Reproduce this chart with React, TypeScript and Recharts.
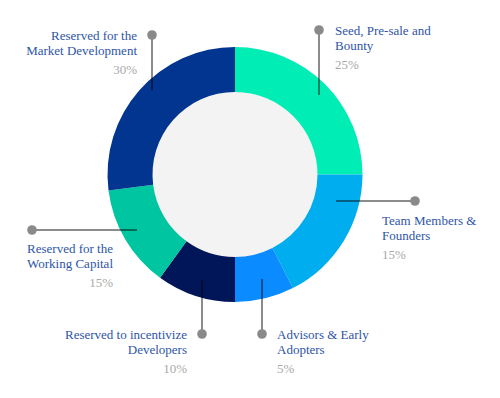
import { PieChart, Pie, Cell } from 'recharts';

const NAMES = [
  ['Seed, Pre-sale and', 'Bounty'],
  ['Team Members &', 'Founders'],
  ['Advisors & Early', 'Adopters'],
  ['Reserved to incentivize', 'Developers'],
  ['Reserved for the', 'Working Capital'],
  ['Reserved for the', 'Market Development'],
];
const SHARES = [25, 17.5, 7.5, 10, 13, 27];
const PCT_LABELS = ['25%', '15%', '5%', '10%', '15%', '30%'];

const COLORS = ['#00EDB6', '#00AEEF', '#0A8BFF', '#001659', '#00C5A1', '#02358F'];

const data = SHARES.map((v, i) => ({ name: NAMES[i].join(' '), value: v }));

// callout layout: dot, line end inside the ring, text anchor & position
const CALLOUTS = [
  { dot: [319, 30], end: [319, 95], anchor: 'start', tx: 335, ty: 35 },
  { dot: [415, 201], end: [336, 201], anchor: 'start', tx: 382, ty: 225 },
  { dot: [262, 334], end: [262, 279], anchor: 'start', tx: 277, ty: 339 },
  { dot: [202, 334], end: [202, 280], anchor: 'end', tx: 187, ty: 339 },
  { dot: [32, 230], end: [137, 230], anchor: 'end', tx: 113, ty: 253 },
  { dot: [152, 35], end: [152, 90], anchor: 'end', tx: 137, ty: 40 },
];

const FONT = '"Liberation Serif", "DejaVu Serif", serif';

function renderCallout(props: any) {
  const i = props.index;
  const c = CALLOUTS[i];
  return (
    <g key={`callout-${i}`}>
      <line x1={c.dot[0]} y1={c.dot[1]} x2={c.end[0]} y2={c.end[1]}
        stroke="rgba(0,0,0,0.45)" strokeWidth={2} />
      <circle cx={c.dot[0]} cy={c.dot[1]} r={4.8} fill="#8a8a8a" />
      <text x={c.tx} y={c.ty} textAnchor={c.anchor} fontFamily={FONT} fontSize={13} fill="#2E55A6">
        {NAMES[i][0]}
      </text>
      <text x={c.tx} y={c.ty + 15} textAnchor={c.anchor} fontFamily={FONT} fontSize={13} fill="#2E55A6">
        {NAMES[i][1]}
      </text>
      <text x={c.tx} y={c.ty + 34} textAnchor={c.anchor} fontFamily={FONT} fontSize={13} fill="#A9A9A9">
        {PCT_LABELS[i]}
      </text>
    </g>
  );
}

export default function App() {
  return (
    <div style={{ position: 'absolute', left: 0, top: 0, width: 500, height: 398, background: '#fff' }}>
      <PieChart width={500} height={398} margin={{ top: 0, right: 0, bottom: 0, left: 0 }}>
        <Pie data={[{ value: 1 }]} dataKey="value" cx={235} cy={174.5} innerRadius={0} outerRadius={83}
          fill="#F3F3F3" stroke="none" isAnimationActive={false} />
        <Pie data={data} dataKey="value" cx={235} cy={174.5} innerRadius={82.5} outerRadius={127.5}
          startAngle={90} endAngle={-270} stroke="none" isAnimationActive={false}
          labelLine={false} label={renderCallout}>
          {data.map((d, i) => <Cell key={d.name + i} fill={COLORS[i]} />)}
        </Pie>
      </PieChart>
    </div>
  );
}
